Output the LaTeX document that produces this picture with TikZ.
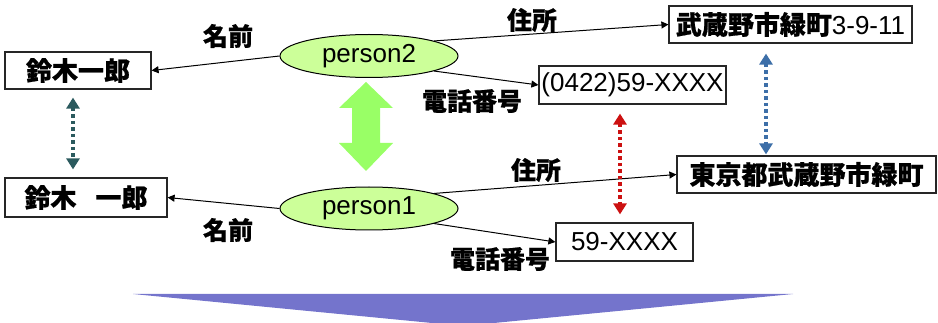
\documentclass[tikz,border=0pt]{standalone}
\usepackage{fontspec}
\setmainfont{Liberation Sans}
\newfontfamily\jp[BoldFeatures={FakeBold=0.7}]{Noto Sans CJK JP}
\usetikzlibrary{arrows.meta,shapes.geometric}
\definecolor{ellfill}{HTML}{CCFF99}
\definecolor{greenarr}{HTML}{99FF66}
\definecolor{tealarr}{HTML}{2B5A5E}
\definecolor{bluearr}{HTML}{3D6FA8}
\definecolor{redarr}{HTML}{CC1111}
\definecolor{purp}{HTML}{7474CC}
\tikzset{
  big/.style={font=\fontsize{26}{30}\selectfont},
  valbox/.style={draw=black!85, line width=1.2pt, inner sep=0pt, big, fill=white},
  person/.style={ellipse, draw=black, line width=1pt, fill=ellfill, minimum width=178pt, minimum height=43pt, inner sep=0pt, big},
  rel/.style={big, inner sep=0pt, font=\fontsize{25}{30}\selectfont\jp\bfseries},
  link/.style={draw=black, line width=1pt, -{Triangle[width=7pt,length=7pt]}},
  dots/.style={line width=3.3pt, dash pattern=on 3.5pt off 3pt, {Triangle[width=13pt,length=11pt]}-{Triangle[width=13pt,length=11pt]}},
}
\begin{document}
\begin{tikzpicture}[x=1pt,y=-1pt]
\useasboundingbox (0,0) rectangle (938,323);
\clip (0,0) rectangle (938,323);
% bottom arrow
\fill[purp] (133,294) -- (793,294) -- (463,326) -- cycle;
% green double arrow
\fill[greenarr] (366,82) -- (393,108) -- (380,108) -- (380,143) -- (393,143) -- (366,171) -- (339,143) -- (352,143) -- (352,108) -- (339,108) -- cycle;
% nodes
\node[person] (p2) at (369,56) {person2};
\node[person] (p1) at (369,208.5) {person1};
\node[valbox, minimum width=146pt, minimum height=37pt] (b1) at (78,70.5) {\jp\bfseries 鈴木一郎};
\node[valbox, minimum width=162pt, minimum height=39pt] (b2) at (86,197.5) {\jp\bfseries 鈴木\hspace{19pt}一郎};
\node[valbox, minimum width=243pt, minimum height=37pt] (b3) at (790.5,24.5) {{\jp\bfseries 武蔵野市緑町}3-9-11};
\node[valbox, minimum width=187pt, minimum height=38pt] (b4) at (632.5,85) {(0422)59-XXXX};
\node[valbox, minimum width=259pt, minimum height=37pt] (b5) at (806.5,174.5) {\jp\bfseries 東京都武蔵野市緑町};
\node[valbox, minimum width=137pt, minimum height=38pt] (b6) at (624.5,242) {59-XXXX};
% labels
\node[rel] (l1) at (228,36) {名前};
\node[rel] (l2) at (228,230) {名前};
\node[rel] (l3) at (532,20) {住所};
\node[rel] (l4) at (536,170) {住所};
\node[rel] (l5) at (472,101) {電話番号};
\node[rel] (l6) at (500,259) {電話番号};
% links
\draw[link] (p2.west) -- (b1.east);
\draw[link] (p2.13) -- (b3.west);
\draw[link] (p2.-13) -- (b4.west);
\draw[link] (p1.west) -- (b2.east);
\draw[link] (p1.13) -- (b5.west);
\draw[link] (p1.-13) -- (b6.west);
% dotted correspondences
\draw[dots, tealarr] ([xshift=-5pt,yshift=-8pt]b1.south) -- ([xshift=-13pt,yshift=8pt]b2.north);
\draw[dots, redarr] ([xshift=-12.5pt,yshift=-9pt]b4.south) -- ([xshift=-4.5pt,yshift=8pt]b6.north);
\draw[dots, bluearr] ([xshift=-24.5pt,yshift=-10pt]b3.south) -- ([xshift=-40.5pt,yshift=1pt]b5.north);
\end{tikzpicture}
\end{document}
